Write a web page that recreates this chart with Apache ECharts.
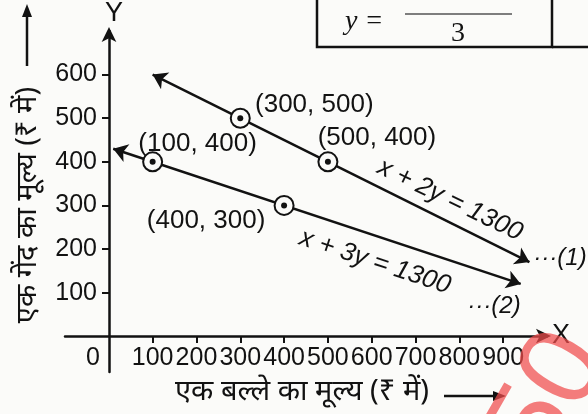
<!DOCTYPE html>
<html>
<head>
<meta charset="utf-8">
<script src="https://cdn.jsdelivr.net/npm/echarts@6/dist/echarts.min.js"></script>
<style>
  html, body { margin: 0; padding: 0; background: #fbfbf9; }
  #chart { width: 588px; height: 414px; }
</style>
</head>
<body>
<div id="chart"></div>
<script>
// Axis ticks
const xTicks = [100, 200, 300, 400, 500, 600, 700, 800, 900];
const yTicks = [100, 200, 300, 400, 500, 600];

// x + 2y = 1300 ...(1)
const line1 = [[100, 600], [960, 170]];
// x + 3y = 1300 ...(2)
const line2 = [[10, 430], [940, 120]];

// Marked solution points
const points = [[100, 400], [300, 500], [500, 400], [400, 300]];
const pointLabels = ['(100, 400)', '(300, 500)', '(500, 400)', '(400, 300)'];

const ink = '#121212';
const paper = '#fbfbf9';
const sans = '"Liberation Sans", Arial, Helvetica, sans-serif';
const hindi = '"Noto Sans", sans-serif';

// label offsets for each marked point
const labelOffsets = [[45, -18], [74, -13], [49, -24], [-78, 15]];

const chart = echarts.init(document.getElementById('chart'), null, { renderer: 'canvas' });

// the plot area spans x -100..1000 and y -82..700; axes are shifted onto the origin
const option = {
  backgroundColor: paper,
  animation: false,
  grid: { left: 65, right: 41, top: 28, bottom: 42, containLabel: false },
  xAxis: {
    type: 'value', min: -100, max: 1000, offset: -36,
    name: 'X', nameLocation: 'end', nameGap: 5,
    nameTextStyle: { fontFamily: sans, fontSize: 27, color: ink, verticalAlign: 'middle' },
    axisLine: { show: true, onZero: false, symbol: ['none', 'arrow'], symbolSize: [11, 15], symbolOffset: [0, 4], lineStyle: { color: ink, width: 2.5 } },
    axisTick: { show: true, length: 7, customValues: xTicks, lineStyle: { color: ink, width: 2 } },
    axisLabel: { customValues: xTicks, margin: 10, fontFamily: sans, fontSize: 25, color: ink },
    splitLine: { show: false }
  },
  yAxis: {
    type: 'value', min: -82, max: 700, offset: -44,
    name: 'Y', nameLocation: 'end', nameGap: 4,
    nameTextStyle: { fontFamily: sans, fontSize: 27, color: ink, align: 'left', padding: [0, 0, 0, -4] },
    axisLine: { show: true, onZero: false, symbol: ['none', 'arrow'], symbolSize: [11, 15], symbolOffset: [0, 4], lineStyle: { color: ink, width: 2.5 } },
    axisTick: { show: true, length: 7, customValues: yTicks, lineStyle: { color: ink, width: 2 } },
    axisLabel: { customValues: yTicks, margin: 12, fontFamily: sans, fontSize: 25, color: ink },
    splitLine: { show: false }
  },
  series: [
    {
      type: 'lines', coordinateSystem: 'cartesian2d', silent: true,
      symbol: ['arrow', 'arrow'], symbolSize: 14,
      lineStyle: { color: ink, width: 2.5, opacity: 1 },
      data: [{ coords: line1 }, { coords: line2 }]
    },
    {
      type: 'scatter', symbol: 'circle', symbolSize: 19, z: 5,
      itemStyle: { color: paper, borderColor: ink, borderWidth: 2, opacity: 1 },
      label: {
        show: true, fontFamily: sans, fontSize: 26, color: ink, opacity: 1,
        formatter: p => pointLabels[p.dataIndex]
      },
      data: points.map((p, i) => ({ value: p, label: { offset: labelOffsets[i] } }))
    },
    {
      type: 'scatter', symbol: 'circle', symbolSize: 6, z: 6,
      itemStyle: { color: ink, opacity: 1 },
      data: points
    }
  ],
  graphic: [
    // equation box at the top
    { type: 'rect', shape: { x: 317, y: -10, width: 235, height: 57 }, style: { fill: 'none', stroke: ink, lineWidth: 2.5 } },
    { type: 'line', shape: { x1: 552, y1: 47, x2: 590, y2: 47 }, style: { stroke: ink, lineWidth: 2.5 } },
    { type: 'text', x: 345, y: 22, style: { text: 'y =', font: 'italic 28px "Liberation Serif", serif', fill: ink, verticalAlign: 'middle' } },
    { type: 'line', shape: { x1: 405, y1: 14, x2: 512, y2: 14 }, style: { stroke: '#555', lineWidth: 1.5 } },
    { type: 'text', x: 458, y: 5, style: { text: '1300 − x', font: '28px "Liberation Serif", serif', fill: ink, align: 'center', verticalAlign: 'bottom' } },
    { type: 'text', x: 458, y: 34, style: { text: '3', font: '28px "Liberation Serif", serif', fill: ink, align: 'center', verticalAlign: 'middle' } },

    // equation labels along the lines
    { type: 'text', x: 450, y: 200, rotation: -0.45, style: { text: 'x + 2y = 1300', font: 'italic 26px ' + sans, fill: ink, align: 'center', verticalAlign: 'middle' } },
    { type: 'text', x: 560, y: 258, style: { text: '···(1)', font: 'italic 24px ' + sans, fill: ink, align: 'center', verticalAlign: 'middle' } },
    { type: 'text', x: 375, y: 262, rotation: -0.32, style: { text: 'x + 3y = 1300', font: 'italic 26px ' + sans, fill: ink, align: 'center', verticalAlign: 'middle' } },
    { type: 'text', x: 494, y: 306, style: { text: '···(2)', font: 'italic 24px ' + sans, fill: ink, align: 'center', verticalAlign: 'middle' } },

    // origin label
    { type: 'text', x: 93, y: 358, style: { text: '0', font: '25px ' + sans, fill: ink, align: 'center', verticalAlign: 'middle' } },

    // axis titles with arrows
    { type: 'text', x: 28, y: 205, rotation: Math.PI / 2, style: { text: 'एक गेंद का मूल्य (₹ में)', font: '29px ' + hindi, fill: ink, align: 'center', verticalAlign: 'middle' } },
    { type: 'line', shape: { x1: 27, y1: 66, x2: 27, y2: 14 }, style: { stroke: ink, lineWidth: 2.5 } },
    { type: 'polygon', shape: { points: [[27, 4], [22, 17], [32, 17]] }, style: { fill: ink } },
    { type: 'text', x: 302, y: 392, style: { text: 'एक बल्ले का मूल्य (₹ में)', font: '29px ' + hindi, fill: ink, align: 'center', verticalAlign: 'middle' } },
    { type: 'line', shape: { x1: 444, y1: 396, x2: 494, y2: 396 }, style: { stroke: ink, lineWidth: 2.5 } },
    { type: 'polygon', shape: { points: [[506, 396], [493, 391], [493, 401]] }, style: { fill: ink } },

    // publisher's stamp in the corner
    { type: 'text', x: 550, y: 398, rotation: 1.05, z: 100, style: { text: '50', font: '300 115px ' + sans, fill: 'rgba(240,75,75,0.72)', align: 'center', verticalAlign: 'middle' } }
  ]
};

chart.setOption(option);
</script>
</body>
</html>
